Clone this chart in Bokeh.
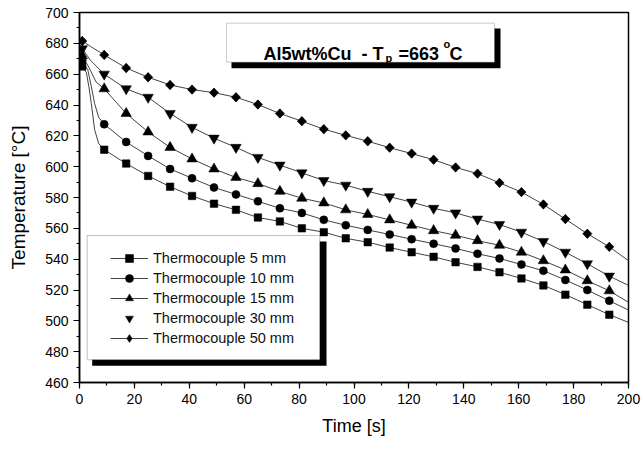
import math
from bokeh.plotting import figure
from bokeh.models import Range1d, Legend, LegendItem, BoxAnnotation, Label, FixedTicker
from bokeh.embed import file_html
from bokeh.resources import INLINE

# ---------------- data ----------------
t_marks = [1, 9, 17, 25, 33, 41, 49, 57, 65, 73, 81, 89, 97, 105, 113, 121,
           129, 137, 145, 153, 161, 169, 177, 185, 193]

T_5mm = [665, 611, 602, 594, 587, 581, 576, 572, 567, 564.5, 560, 557.5, 553.5,
         551, 547.5, 544.5, 541.5, 538, 535, 531.5, 527.5, 523, 517, 510.5, 504]
T_10mm = [669, 627.5, 616, 607, 598.5, 592.5, 586.5, 582, 577.5, 573, 570, 565.5,
          562, 559, 556, 553, 550, 547, 543.5, 540.5, 536.5, 532.5, 526.5, 520, 513]
T_15mm = [672, 650.5, 634.5, 622.5, 612.5, 605, 598.5, 593, 589, 584, 579.5, 576.5,
          572, 569, 565.5, 562, 558.5, 555.5, 552, 549, 544.5, 539, 533, 526, 519.5]
T_30mm = [676.5, 660, 650.5, 645, 634.5, 625.5, 618.5, 612.5, 606, 601, 596, 591,
          588, 584, 580.5, 577, 573, 570, 566, 562.5, 557.5, 551.5, 544.5, 537, 529]
T_50mm = [681.5, 672.5, 664, 658, 653, 650, 648, 645, 640.3, 634.5, 629.5, 624.3,
          620.3, 616.5, 612.3, 608.5, 604.5, 599.5, 595.5, 589.5, 583.5, 575.5, 566,
          556.5, 548]

# extra points of the traced curves (early knee) and the curve end at t = 200 s
knee_t = {"5": [2.5, 3.4, 4.3, 5.5, 7], "10": [3, 4.3, 5.5, 7], "15": [3.4, 6],
          "30": [4], "50": [4]}
knee_T = {"5": [661, 652, 641, 624, 615], "10": [663, 652, 641, 632],
          "15": [664.5, 655], "30": [669], "50": [678]}
t_end = 200
T_end = {"5": 499, "10": 507, "15": 512, "30": 523, "50": 539}

labels = ["Thermocouple 5 mm", "Thermocouple 10 mm", "Thermocouple 15 mm",
          "Thermocouple 30 mm", "Thermocouple 50 mm"]
x_ticks = [0, 20, 40, 60, 80, 100, 120, 140, 160, 180, 200]
y_ticks = [460, 480, 500, 520, 540, 560, 580, 600, 620, 640, 660, 680, 700]

# ---------------- figure ----------------
FONT = "Liberation Sans"
p = figure(width=642, height=449, output_backend="svg", toolbar_location=None,
           x_range=Range1d(0, 200), y_range=Range1d(460, 700),
           min_border_left=79, min_border_right=14, min_border_top=12,
           min_border_bottom=67, background_fill_color="white",
           border_fill_color="white")
p.grid.visible = False
p.outline_line_color = "black"
p.outline_line_width = 1.5

for ax in (p.xaxis[0], p.yaxis[0]):
    ax.axis_line_width = 1.5
    ax.axis_line_color = "black"
    ax.major_tick_line_color = "black"
    ax.minor_tick_line_color = "black"
    ax.major_tick_line_width = 1.2
    ax.minor_tick_line_width = 1.2
    ax.major_tick_in = 0
    ax.major_tick_out = 6
    ax.minor_tick_in = 0
    ax.minor_tick_out = 3
    ax.major_label_text_font = FONT
    ax.major_label_text_font_size = "14px"
    ax.major_label_text_color = "black"
    ax.axis_label_text_font = FONT
    ax.axis_label_text_font_size = "18px"
    ax.axis_label_text_font_style = "normal"
    ax.axis_label_text_color = "black"
    ax.major_label_standoff = 5

p.xaxis[0].ticker = FixedTicker(ticks=x_ticks, minor_ticks=list(range(0, 201, 10)))
p.yaxis[0].ticker = FixedTicker(ticks=y_ticks, minor_ticks=list(range(460, 701, 10)))
p.xaxis[0].axis_label = "Time [s]"
p.yaxis[0].axis_label = "Temperature [°C]"
p.yaxis[0].axis_label_text_font_size = "19px"
p.xaxis[0].axis_label_standoff = 9
p.yaxis[0].axis_label_standoff = 13

# ---------------- series ----------------
series = [("5", T_5mm, "square", 7.5, 0.0),
          ("10", T_10mm, "circle", 8, 0.0),
          ("15", T_15mm, "triangle", 10.5, 0.0),
          ("30", T_30mm, "inverted_triangle", 10.5, 0.0),
          ("50", T_50mm, "square", 6.6, math.pi / 4)]

items = []
for (key, T, marker, size, angle), lab_txt in zip(series, labels):
    lx = [t_marks[0]] + knee_t[key] + t_marks[1:] + [t_end]
    ly = [T[0]] + knee_T[key] + T[1:] + [T_end[key]]
    ln = p.line(lx, ly, line_color="#111111", line_width=0.8)
    leg = None
    if angle != 0.0:
        # diamond shape (hidden under the rotated squares) that the legend can show,
        # because legend symbols ignore a glyph's angle
        leg = p.scatter(t_marks, T, marker="diamond", size=9,
                        fill_color="black", line_color="black", line_width=0.5)
    sc = p.scatter(t_marks, T, marker=marker, size=size, angle=angle,
                   fill_color="black", line_color="black", line_width=0.5)
    if leg is not None:
        sc = leg
    rends = [sc] if key == "30" else [ln, sc]
    items.append(LegendItem(label=lab_txt, renderers=rends))

# ---------------- helpers for annotation placement (pixel -> data) ----------------
def dx(px):
    return (px - 79) / 2.745

def dy(py):
    return 700 - (py - 12) / 1.5417

# legend frame with shadow
p.add_layout(BoxAnnotation(left=dx(91.7), right=dx(326), top=dy(241), bottom=dy(365.3),
                           fill_color="black", fill_alpha=1, line_alpha=0))
p.add_layout(BoxAnnotation(left=dx(86.7), right=dx(319.3), top=dy(235), bottom=dy(359.3),
                           fill_color="white", fill_alpha=1, line_color="#333333",
                           line_width=1))

legend = Legend(items=items, location=(31, 34), orientation="vertical",
                padding=0, margin=0, spacing=0, glyph_width=38, glyph_height=20,
                label_height=20, label_standoff=5, label_text_font=FONT,
                label_text_font_size="14.5px", label_text_color="#111111",
                background_fill_alpha=0, border_line_alpha=0)
p.add_layout(legend)

# title box with shadow
p.add_layout(BoxAnnotation(left=dx(231), right=dx(500), top=dy(28), bottom=dy(67.7),
                           fill_color="black", fill_alpha=1, line_alpha=0))
p.add_layout(BoxAnnotation(left=dx(226), right=dx(494), top=dy(22.7), bottom=dy(61.7),
                           fill_color="white", fill_alpha=1, line_color="#555555",
                           line_width=1))

def lab(px, py, text, size, align="left"):
    p.add_layout(Label(x=dx(px), y=dy(py), text=text, text_font=FONT,
                       text_font_size=size, text_font_style="bold",
                       text_color="black", text_baseline="alphabetic",
                       text_align=align))

lab(383, 53.5, "Al5wt%Cu\u00a0\u00a0- T", "18px", align="right")
lab(385, 58, "p", "11px")
lab(398, 53.5, "=663", "18px")
lab(443, 44, "o", "11px")
lab(449, 53.5, "C", "18px")

open("out.html", "w").write(file_html(p, INLINE))
